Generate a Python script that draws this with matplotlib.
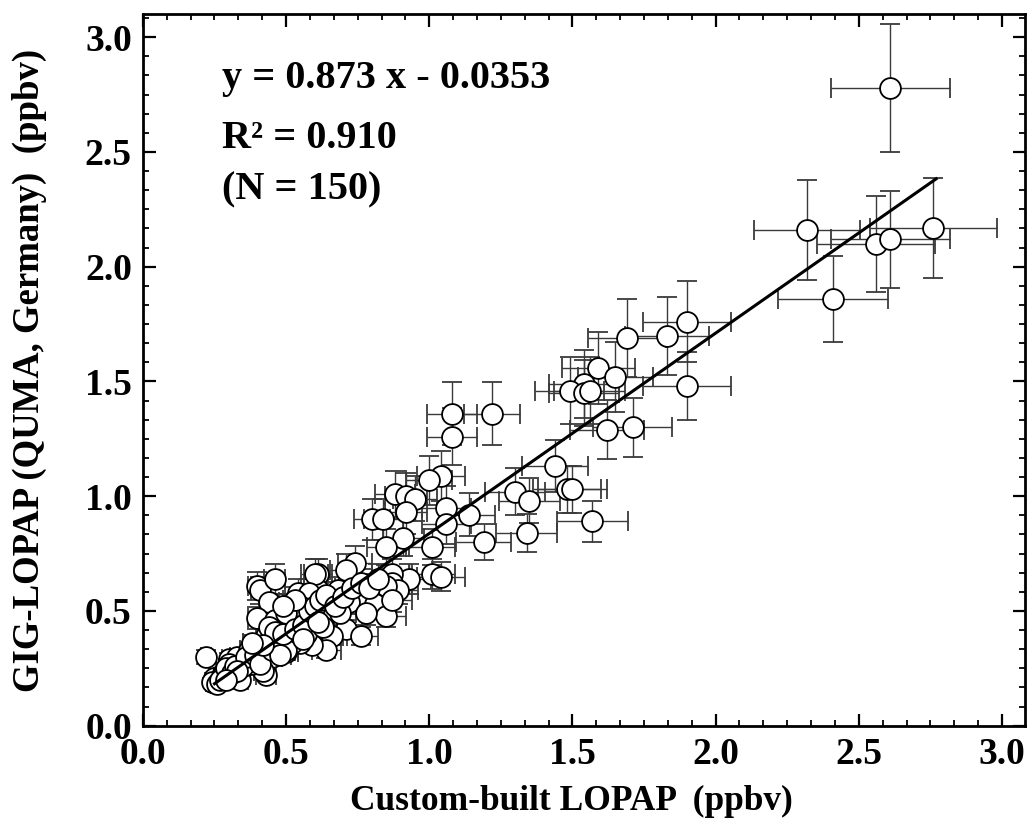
import numpy as np
import matplotlib
matplotlib.use("Agg")
import matplotlib.pyplot as plt
from matplotlib.ticker import MultipleLocator, AutoMinorLocator

# Custom-built LOPAP (x) vs GIG-LOPAP QUMA (y), ppbv
x_custom = [
    2.61, 2.32, 2.56, 2.61, 2.76, 2.41,
    1.90, 1.83, 1.69, 1.59, 1.65, 1.54, 1.49, 1.54, 1.56, 1.90, 1.62, 1.71,
    1.08, 1.22, 1.08, 1.44, 1.30, 1.35, 1.48, 1.50, 1.57, 1.34, 1.19, 1.14,
    1.06, 1.06, 1.04, 1.00, 1.01, 1.01, 1.04, 0.93,
    0.88, 0.92, 0.95, 0.92, 0.80, 0.84, 0.91, 0.85, 0.74, 0.71, 0.61,
    0.87, 0.87, 0.89, 0.85,
    0.61, 0.68, 0.75, 0.72, 0.81, 0.85, 0.65, 0.63, 0.71, 0.76, 0.66, 0.64, 0.59, 0.59,
    0.78, 0.69, 0.87, 0.57, 0.57,
    0.40, 0.41, 0.46, 0.60, 0.54, 0.44, 0.58, 0.40, 0.52, 0.47, 0.50, 0.44, 0.40, 0.55,
    0.35, 0.40, 0.22, 0.25, 0.34, 0.30, 0.43, 0.43, 0.24, 0.28, 0.51, 0.48, 0.52, 0.54,
    0.47, 0.43, 0.52, 0.45, 0.42, 0.33, 0.30, 0.26, 0.28, 0.37, 0.38, 0.35, 0.48, 0.46,
    0.55, 0.50, 0.44, 0.63, 0.50,
    0.27, 0.29, 0.31, 0.32, 0.36, 0.39, 0.41, 0.45, 0.46, 0.49, 0.53, 0.56, 0.58, 0.60,
    0.62, 0.64, 0.67, 0.70, 0.73, 0.76, 0.79, 0.82, 0.48, 0.42, 0.38, 0.33, 0.29, 0.56,
    0.61, 0.53, 0.49,
]
y_quma = [
    2.78, 2.16, 2.10, 2.12, 2.17, 1.86,
    1.76, 1.70, 1.69, 1.56, 1.52, 1.49, 1.46, 1.45, 1.46, 1.48, 1.29, 1.30,
    1.36, 1.36, 1.26, 1.13, 1.02, 0.98, 1.03, 1.03, 0.89, 0.84, 0.80, 0.92,
    0.95, 0.88, 1.09, 1.07, 0.78, 0.66, 0.65, 0.64,
    1.01, 1.00, 0.99, 0.93, 0.90, 0.90, 0.82, 0.78, 0.71, 0.68, 0.66,
    0.66, 0.62, 0.59, 0.61,
    0.59, 0.59, 0.57, 0.54, 0.53, 0.48, 0.49, 0.46, 0.42, 0.39, 0.39, 0.33, 0.42, 0.35,
    0.49, 0.49, 0.55, 0.46, 0.40,
    0.61, 0.59, 0.64, 0.66, 0.58, 0.54, 0.58, 0.47, 0.47, 0.36, 0.32, 0.39, 0.34, 0.36,
    0.27, 0.29, 0.30, 0.21, 0.20, 0.29, 0.22, 0.30, 0.19, 0.23, 0.39, 0.43, 0.49, 0.45,
    0.39, 0.39, 0.36, 0.30, 0.24, 0.30, 0.27, 0.18, 0.22, 0.33, 0.27, 0.26, 0.36, 0.46,
    0.52, 0.49, 0.43, 0.43, 0.33,
    0.20, 0.25, 0.23, 0.26, 0.30, 0.31, 0.27, 0.33, 0.41, 0.40, 0.42, 0.44, 0.50, 0.52,
    0.55, 0.57, 0.52, 0.56, 0.60, 0.62, 0.60, 0.64, 0.31, 0.35, 0.36, 0.24, 0.20, 0.38,
    0.45, 0.55, 0.52,
]

# relative measurement uncertainties
x_rel_err = 0.08
y_rel_err = 0.10

# regression from the figure
slope, intercept = 0.873, -0.0353
fit_range = [0.25, 2.77]

plt.rcParams['font.family'] = ['Liberation Serif', 'DejaVu Serif']
plt.rcParams['font.weight'] = 'bold'

x = np.array(x_custom)
y = np.array(y_quma)

fig = plt.figure(figsize=(10.28, 8.39), dpi=100)
ax = fig.add_axes([0.139, 0.135, 0.858, 0.848])

ax.errorbar(x, y, xerr=x * x_rel_err, yerr=y * y_rel_err, fmt='o',
            ms=15, mfc='white', mec='black', mew=1.3,
            ecolor='#3a3a3a', elinewidth=1.0, capsize=7, capthick=1.0, zorder=2)

fx = np.array(fit_range)
ax.plot(fx, slope * fx + intercept, color='black', lw=2.2, zorder=3)

ax.set_xlim(0, 3.08)
ax.set_ylim(0, 3.1)
for axis in (ax.xaxis, ax.yaxis):
    axis.set_major_locator(MultipleLocator(0.5))
    axis.set_minor_locator(AutoMinorLocator(6))
ax.xaxis.set_major_formatter(plt.FormatStrFormatter('%.1f'))
ax.yaxis.set_major_formatter(plt.FormatStrFormatter('%.1f'))

ax.tick_params(which='both', direction='in', top=True, right=True)
ax.tick_params(which='major', length=9, width=1.6, labelsize=27, pad=8)
ax.tick_params(which='minor', length=4.5, width=1.3)
for s in ax.spines.values():
    s.set_linewidth(2.0)

ax.text(0.09, 0.91, 'y = 0.873 x - 0.0353', transform=ax.transAxes,
        fontsize=29, fontweight='bold', va='center', ha='left')
ax.text(0.09, 0.826, 'R\u00b2 = 0.910', transform=ax.transAxes,
        fontsize=29, fontweight='bold', va='center', ha='left')
ax.text(0.09, 0.753, '(N = 150)', transform=ax.transAxes,
        fontsize=29, fontweight='bold', va='center', ha='left')

fig.text(0.556, 0.045, 'Custom-built LOPAP  (ppbv)', fontsize=25.5,
         fontweight='bold', ha='center', va='center')
fig.text(0.029, 0.559, 'GIG-LOPAP (QUMA, Germany)  (ppbv)', fontsize=26.5,
         fontweight='bold', ha='center', va='center', rotation=90)

fig.savefig('out.png', dpi=100)
